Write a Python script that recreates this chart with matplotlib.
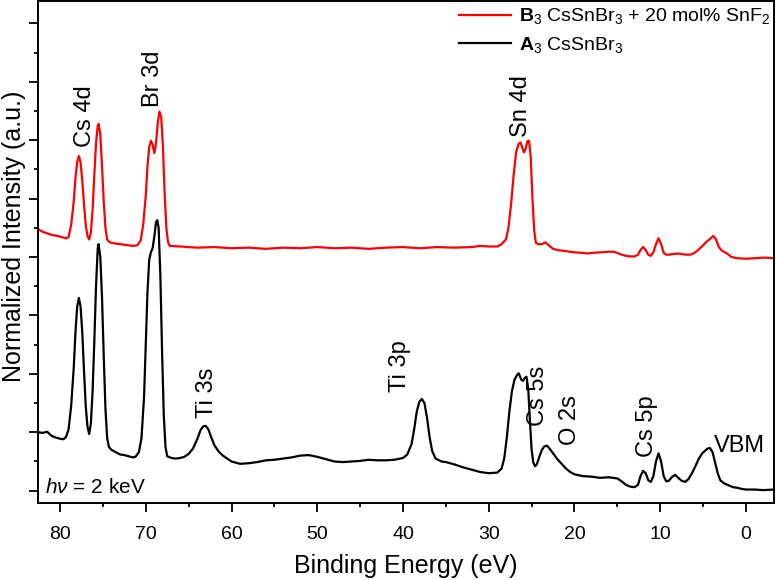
import matplotlib
matplotlib.use("Agg")
import matplotlib.pyplot as plt
from matplotlib.ticker import MultipleLocator, NullFormatter

plt.rcParams['font.family'] = ['Liberation Sans', 'DejaVu Sans']
plt.rcParams['mathtext.fontset'] = 'custom'
plt.rcParams['mathtext.rm'] = 'Liberation Sans'
plt.rcParams['mathtext.it'] = 'Liberation Sans:italic'
plt.rcParams['mathtext.bf'] = 'Liberation Sans:bold'

# A3 CsSnBr3 spectrum (binding energy in eV, normalized intensity)
a3_energy = [82.6, 82.0, 81.5, 81.0, 80.5, 80.0, 79.6, 79.3, 79.0, 78.7, 78.4, 78.2, 78.0, 77.8,
             77.6, 77.4, 77.2, 77.0, 76.8, 76.6, 76.4, 76.2, 76.0, 75.8, 75.6, 75.5, 75.3, 75.1,
             74.9, 74.7, 74.5, 74.3, 74.0, 73.5, 73.0, 72.5, 72.0, 71.5, 71.2, 70.8, 70.5, 70.2,
             70.0, 69.8, 69.6, 69.4, 69.2, 69.0, 68.8, 68.65, 68.5, 68.3, 68.1, 67.9, 67.7, 67.5,
             67.0, 66.5, 66.0, 65.5, 65.0, 64.5, 64.0, 63.6, 63.3, 63.0, 62.7, 62.4, 62.0, 61.5,
             61.0, 60.5, 60.0, 59.5, 59.0, 58.0, 57.0, 56.0, 55.0, 54.0, 53.0, 52.0, 51.0, 50.0,
             49.0, 48.0, 47.0, 46.0, 45.0, 44.0, 43.0, 42.0, 41.0, 40.0, 39.5, 39.0, 38.7, 38.4,
             38.1, 37.8, 37.5, 37.2, 36.9, 36.6, 36.2, 35.5, 35.0, 34.0, 33.0, 32.0, 31.0, 30.0,
             29.0, 28.5, 28.2, 27.9, 27.6, 27.3, 27.0, 26.7, 26.5, 26.2, 26.0, 25.8, 25.6, 25.4,
             25.2, 25.0, 24.8, 24.6, 24.4, 24.1, 23.8, 23.5, 23.2, 22.9, 22.5, 22.0, 21.5, 21.0,
             20.5, 20.0, 19.0, 18.0, 17.0, 16.0, 15.0, 14.5, 14.0, 13.5, 13.0, 12.6, 12.3, 12.0,
             11.7, 11.4, 11.1, 10.8, 10.5, 10.2, 9.9, 9.6, 9.3, 9.0, 8.6, 8.25, 7.9, 7.5, 7.1,
             6.7, 6.3, 5.9, 5.5, 5.1, 4.8, 4.5, 4.2, 3.9, 3.6, 3.3, 3.0, 2.6, 2.0, 1.5, 1.0, 0.5,
             0.0, -1.0, -2.0, -3.3]
a3_intensity = [1.00, 0.99, 1.01, 0.94, 0.91, 0.89, 0.88, 0.92, 1.05, 1.45, 2.10, 2.70, 3.15, 3.30,
                3.15, 2.70, 2.05, 1.45, 1.10, 0.97, 1.15, 1.70, 2.55, 3.50, 4.15, 4.22, 4.00, 3.30,
                2.30, 1.40, 0.90, 0.75, 0.70, 0.66, 0.62, 0.61, 0.59, 0.57, 0.58, 0.66, 0.90, 1.60,
                2.50, 3.40, 3.95, 4.08, 4.15, 4.35, 4.60, 4.63, 4.50, 3.70, 2.40, 1.30, 0.75, 0.59,
                0.56, 0.55, 0.56, 0.58, 0.63, 0.72, 0.88, 1.04, 1.10, 1.11, 1.05, 0.93, 0.78, 0.67,
                0.60, 0.55, 0.50, 0.48, 0.46, 0.47, 0.49, 0.52, 0.53, 0.55, 0.57, 0.60, 0.61, 0.58,
                0.54, 0.50, 0.49, 0.50, 0.51, 0.53, 0.52, 0.52, 0.53, 0.56, 0.62, 0.80, 1.05, 1.35,
                1.52, 1.57, 1.50, 1.25, 0.92, 0.68, 0.55, 0.50, 0.49, 0.45, 0.40, 0.36, 0.32, 0.30,
                0.31, 0.38, 0.55, 0.90, 1.35, 1.70, 1.90, 1.98, 2.01, 1.90, 1.88, 1.93, 1.95, 1.75,
                1.20, 0.70, 0.48, 0.42, 0.45, 0.58, 0.70, 0.76, 0.77, 0.72, 0.64, 0.54, 0.46, 0.38,
                0.32, 0.28, 0.25, 0.24, 0.22, 0.23, 0.21, 0.16, 0.10, 0.07, 0.06, 0.10, 0.25, 0.34,
                0.30, 0.18, 0.15, 0.25, 0.50, 0.64, 0.50, 0.25, 0.16, 0.17, 0.24, 0.27, 0.22, 0.17, 0.15,
                0.20, 0.30, 0.42, 0.55, 0.64, 0.68, 0.72, 0.73, 0.66, 0.48, 0.30, 0.18, 0.13, 0.09, 0.06, 0.05, 0.03,
                0.02, 0.02, 0.01, 0.02]

# B3 CsSnBr3 + 20 mol% SnF2 spectrum (offset upward)
b3_energy = [82.6, 82.0, 81.0, 80.0, 79.3, 79.0, 78.7, 78.4, 78.2, 78.0, 77.8, 77.6, 77.4, 77.2,
             77.0, 76.8, 76.6, 76.4, 76.2, 76.0, 75.8, 75.6, 75.5, 75.3, 75.1, 74.9, 74.7, 74.5,
             74.2, 73.5, 72.5, 71.5, 71.0, 70.6, 70.3, 70.0, 69.8, 69.6, 69.4, 69.2, 69.0, 68.8,
             68.6, 68.4, 68.2, 68.0, 67.8, 67.6, 67.4, 67.2, 66.0, 64.0, 62.0, 60.0, 58.0, 56.0,
             54.0, 52.0, 50.0, 48.0, 46.0, 44.0, 42.0, 40.0, 38.0, 36.0, 34.0, 32.0, 31.0, 30.0,
             29.0, 28.5, 28.0, 27.7, 27.4, 27.1, 26.8, 26.5, 26.3, 26.1, 25.9, 25.7, 25.5, 25.3,
             25.1, 24.9, 24.7, 24.5, 24.2, 23.8, 23.4, 23.0, 22.5, 22.0, 21.0, 20.0, 19.0, 18.5,
             18.0, 17.0, 16.0, 15.4, 15.0, 14.5, 14.0, 13.5, 13.0, 12.6, 12.3, 12.0, 11.7, 11.4,
             11.1, 10.8, 10.5, 10.2, 9.9, 9.6, 9.3, 9.0, 8.5, 8.0, 7.5, 7.0, 6.5, 6.0, 5.5, 5.0,
             4.6, 4.2, 3.8, 3.5, 3.2, 2.9, 2.6, 2.2, 1.8, 1.4, 1.0, 0.0, -1.0, -2.0, -3.3]
b3_intensity = [4.48, 4.43, 4.38, 4.35, 4.32, 4.34, 4.55, 4.95, 5.35, 5.62, 5.73, 5.62, 5.30, 4.90,
                4.55, 4.36, 4.30, 4.42, 4.80, 5.40, 5.95, 6.25, 6.28, 6.10, 5.55, 4.95, 4.50, 4.30,
                4.25, 4.23, 4.21, 4.19, 4.20, 4.28, 4.55, 5.05, 5.55, 5.88, 5.99, 5.92, 5.78, 5.95,
                6.30, 6.49, 6.40, 5.90, 5.10, 4.50, 4.25, 4.19, 4.18, 4.16, 4.17, 4.15, 4.16, 4.14,
                4.16, 4.15, 4.17, 4.15, 4.16, 4.14, 4.16, 4.17, 4.15, 4.17, 4.16, 4.17, 4.19, 4.18,
                4.18, 4.22, 4.30, 4.50, 4.90, 5.40, 5.80, 5.94, 5.96, 5.88, 5.79, 5.85, 5.98, 5.99,
                5.70, 5.00, 4.45, 4.24, 4.22, 4.22, 4.25, 4.20, 4.14, 4.12, 4.10, 4.08, 4.07, 4.06,
                4.07, 4.08, 4.09, 4.09, 4.07, 4.04, 4.02, 4.01, 4.01, 4.04, 4.12, 4.17, 4.12, 4.04,
                4.02, 4.08, 4.22, 4.32, 4.22, 4.07, 4.04, 4.04, 4.05, 4.06, 4.05, 4.04, 4.04, 4.07, 4.13, 4.20,
                4.26, 4.31, 4.36, 4.30, 4.18, 4.12, 4.09, 4.06, 4.01, 3.99, 3.98, 3.97, 3.98, 3.99, 3.98]

# peak labels: text, energy, intensity at text start
peak_labels = ['Cs 4d', 'Br 3d', 'Sn 4d', 'Ti 3s', 'Ti 3p', 'Cs 5s', 'O 2s', 'Cs 5p']
peak_x = [77.1, 69.1, 26.2, 62.9, 40.3, 24.2, 20.5, 11.55]
peak_y = [5.89, 6.57, 6.06, 1.24, 1.69, 1.10, 0.78, 0.58]

fig = plt.figure(figsize=(7.76, 5.8), dpi=100)
ax = fig.add_axes([0.0486, 0.1333, 0.9492, 0.8658])

line_a, = ax.plot(a3_energy, a3_intensity, color='black', lw=1.6)
line_b, = ax.plot(b3_energy, b3_intensity, color='#ff0000', lw=1.6)

for lab, x, y in zip(peak_labels, peak_x, peak_y):
    ax.text(x, y, lab, rotation=90, ha='center', va='bottom', fontsize=17)
ax.text(3.78, 0.67, 'VBM', ha='left', va='baseline', fontsize=17)
ax.text(81.8, -0.04, r'$h\nu$ = 2 keV', ha='left', va='baseline', fontsize=15)

ax.set_xlim(82.6, -3.3)
ax.set_ylim(-0.205, 8.39)
ax.xaxis.set_major_locator(MultipleLocator(10))
ax.xaxis.set_minor_locator(MultipleLocator(5))
ax.yaxis.set_major_locator(MultipleLocator(1))
ax.yaxis.set_minor_locator(MultipleLocator(0.5))
ax.yaxis.set_major_formatter(NullFormatter())
ax.tick_params(axis='both', which='major', direction='out', length=6.5, width=1.3, labelsize=14, pad=10.5)
ax.tick_params(axis='both', which='minor', direction='out', length=3.2, width=1.3)
for sp in ax.spines.values():
    sp.set_linewidth(1.4)

ax.set_xlabel('Binding Energy (eV)', fontsize=18, labelpad=8)
ax.set_ylabel('Normalized Intensity (a.u.)', fontsize=18)
ax.yaxis.set_label_coords(-0.016, 0.53)

ax.legend([line_b, line_a],
          [r'$\mathbf{B}_{3}$ CsSnBr$_{3}$ + 20 mol% SnF$_{2}$', r'$\mathbf{A}_{3}$ CsSnBr$_{3}$'],
          loc='upper left', bbox_to_anchor=(0.564, 1.0), frameon=False, fontsize=14,
          handlelength=2.7, handletextpad=0.4, labelspacing=0.42, borderpad=0.3, borderaxespad=0)

fig.savefig('out.png', dpi=100)
